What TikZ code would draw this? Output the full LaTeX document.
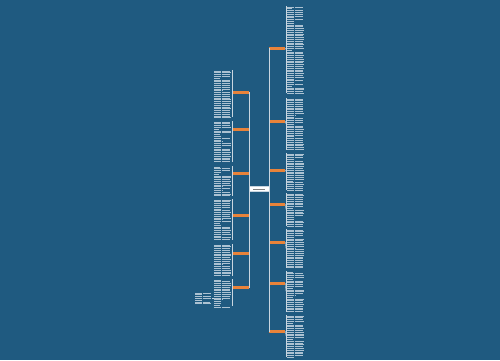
\documentclass[tikz,border=0pt]{standalone}
\usetikzlibrary{calc}
\definecolor{bg}{HTML}{1F5A80}
\definecolor{org}{HTML}{E8833A}
\definecolor{txtc}{HTML}{DCE6EE}
\definecolor{lnc}{HTML}{C9D6E0}
\newcommand\tblock[5]{% x, ytop, ybot, width, seed
  \pgfmathsetseed{#5}
  \pgfmathtruncatemacro\nlines{(#3-#2)/1.8}
  \foreach \i in {0,...,\nlines}{
    \pgfmathsetmacro\rr{rnd}
    \pgfmathsetmacro\len{\rr<0.18 ? #4*(0.3+\rr) : #4*(0.9+0.1*\rr)}
    \draw[txtline] (#1,{#2+\i*1.8}) -- ++(\len,0);
  }
}
\begin{document}
\begin{tikzpicture}[x=1pt,y=-1pt,
  txtline/.style={txtc,line width=0.95pt,dash pattern=on 2.2pt off 0.25pt on 1.1pt off 0.25pt,opacity=0.75},
  topic/.style={fill=org,draw=none,minimum width=16.5pt,minimum height=3pt,inner sep=0pt,outer sep=0pt},
  root/.style={fill=white,draw=lnc,line width=0.3pt,minimum width=20pt,minimum height=5pt,inner sep=0pt,outer sep=0pt},
  conn/.style={lnc,line width=0.6pt},
  brk/.style={lnc,line width=0.4pt}]
\fill[bg] (0,0) rectangle (500,360);
\useasboundingbox (0,0) rectangle (500,360);

% root
\node[root] (c) at (259,189) {};
\draw[gray,line width=0.5pt] (253,189) -- (265,189);

% left topics
\node[topic] (L1) at (241,92) {};
\node[topic] (L2) at (241,129) {};
\node[topic] (L3) at (241,173) {};
\node[topic] (L4) at (241,215) {};
\node[topic] (L5) at (241,253) {};
\node[topic] (L6) at (241,287) {};
% right topics
\node[topic] (R1) at (277,48) {};
\node[topic] (R2) at (277,121) {};
\node[topic] (R3) at (277,170) {};
\node[topic] (R4) at (277,204) {};
\node[topic] (R5) at (277,242) {};
\node[topic] (R6) at (277,283) {};
\node[topic] (R7) at (277,331) {};

% connectors root -> topics
\foreach \n in {L1,L2,L3,L4,L5,L6}{
  \draw[conn] (c.west) |- (\n.east);
}
\foreach \n in {R1,R2,R3,R4,R5,R6,R7}{
  \draw[conn] (c.east) |- (\n.west);
}

% left text blocks with brackets
\foreach \n/\a/\b/\s in {L1/70/117/11,L2/121/162/12,L3/166/196/13,L4/199/240/14,L5/244/276/15,L6/279/306/16}{
  \coordinate (\n t) at (232.5,\a);
  \coordinate (\n b) at (232.5,\b);
  \draw[brk] (\n.west) -- (232.5,{0.5*(\a+\b)}) ;
  \draw[brk] (\n t) -- (\n b);
  \tblock{214}{\a+1}{\b-1}{17}{\s}
}
% sub block bottom left
\coordinate (sb) at (212,298);
\draw[brk] (213.5,298) -- (sb);
\tblock{195}{293}{304}{16}{21}

% right text blocks with brackets
\foreach \n/\a/\b/\s in {R1/6/93/31,R2/98/150/32,R3/153/190/33,R4/193/226/34,R5/229/268/35,R6/271/312/36,R7/315/357/37}{
  \coordinate (\n t) at (286,\a);
  \coordinate (\n b) at (286,\b);
  \draw[brk] (\n.east) -- (286,{0.5*(\a+\b)});
  \draw[brk] (\n t) -- (\n b);
  \tblock{287}{\a+1}{\b-1}{17}{\s}
}
\end{tikzpicture}
\end{document}
